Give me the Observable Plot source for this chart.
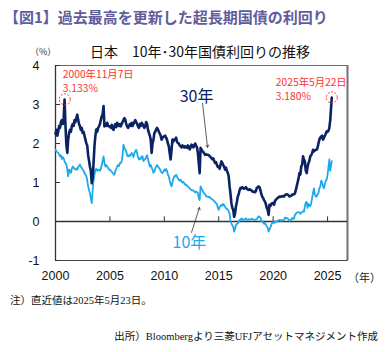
<!DOCTYPE html>
<html>
<head>
<meta charset="utf-8">
<script src="https://cdn.jsdelivr.net/npm/d3@7"></script>
<script src="https://cdn.jsdelivr.net/npm/@observablehq/plot@0.6"></script>
<style>
  html, body { margin: 0; padding: 0; background: #fff; }
  #wrap { position: relative; width: 387px; height: 352px; overflow: hidden; font-family: "Noto Sans CJK JP", "Noto Sans", sans-serif; }
  .abs { position: absolute; white-space: pre; line-height: 1; }
  #title { left: 4px; top: 9px; font-size: 15px; font-weight: bold; color: #615d9c; }
  #ctitle { left: 90px; top: 44px; font-size: 14px; color: #111; }
  #unit { left: 30px; top: 47px; font-size: 9px; color: #333; }
  #yearunit { left: 348px; top: 272px; font-size: 11px; color: #222; }
  #note { left: 10px; top: 296px; font-size: 10.5px; color: #111; font-family: "Liberation Serif", "Noto Sans CJK JP", serif; }
  #source { right: 9px; top: 332px; font-size: 10.5px; color: #111; font-family: "Liberation Serif", "Noto Sans CJK JP", serif; }
  #chart { position: absolute; left: 0; top: 0; }
</style>
</head>
<body>
<div id="wrap">
  <div id="chart"></div>
  <div class="abs" id="title">【図1】過去最高を更新した超長期国債の利回り</div>
  <div class="abs" id="ctitle">日本　10年･30年国債利回りの推移</div>
  <div class="abs" id="unit">（%）</div>
  <div class="abs" id="yearunit">（年）</div>
  <div class="abs" id="note">注）直近値は2025年5月23日。</div>
  <div class="abs" id="source">出所）Bloombergより三菱UFJアセットマネジメント作成</div>
</div>
<script>
// ---- data (monthly, Jan 2000 – Apr 2025, then latest day) ----
const firstMonth = "2000-01-01";
const lastDate = "2025-05-22";

const yield30 = [
  // 2000
  2.25, 2.35, 2.2, 2.3, 2.45, 2.4, 2.55, 2.6, 2.5, 2.65, 3.13, 2.45,
  // 2001
  1.95, 1.76, 2.1, 2.27, 2.35, 2.3, 2.44, 2.5, 2.45, 2.6, 2.55, 2.65,
  // 2002
  2.74, 2.6, 2.5, 2.44, 2.35, 2.4, 2.27, 2.3, 2.2, 2.1, 2.0, 1.95,
  // 2003
  1.7, 1.55, 1.41, 1.3, 0.98, 1.1, 1.5, 1.93, 2.2, 2.36, 2.3, 2.4,
  // 2004
  2.44, 2.5, 2.6, 2.7, 2.75, 2.96, 2.44, 2.5, 2.45, 2.53, 2.45, 2.44,
  // 2005
  2.44, 2.4, 2.48, 2.4, 2.35, 2.45, 2.5, 2.42, 2.53, 2.48, 2.45, 2.5,
  // 2006
  2.44, 2.5, 2.55, 2.6, 2.65, 2.61, 2.5, 2.44, 2.4, 2.45, 2.5, 2.45,
  // 2007
  2.53, 2.45, 2.5, 2.55, 2.6, 2.55, 2.5, 2.44, 2.4, 2.5, 2.45, 2.53,
  // 2008
  2.5, 2.44, 2.4, 2.45, 2.55, 2.5, 2.35, 2.27, 2.2, 2.1, 1.76, 2.0,
  // 2009
  2.1, 2.27, 2.3, 2.36, 2.4, 2.36, 2.3, 2.25, 2.2, 2.1, 2.15, 2.18,
  // 2010
  2.18, 2.2, 2.15, 2.1, 2.0, 1.93, 1.75, 1.59, 1.85, 2.1, 2.05, 2.1,
  // 2011
  2.1, 2.15, 2.05, 2.01, 2.0, 1.95, 1.93, 1.9, 1.95, 1.93, 1.9, 1.93,
  // 2012
  1.9, 1.89, 1.95, 1.92, 1.85, 1.9, 1.97, 1.95, 1.9, 1.95, 2.0, 1.95,
  // 2013
  1.9, 1.75, 1.5, 1.24, 1.89, 1.85, 1.8, 1.78, 1.75, 1.71, 1.72, 1.71,
  // 2014
  1.71, 1.7, 1.68, 1.65, 1.63, 1.6, 1.62, 1.55, 1.5, 1.52, 1.45, 1.4,
  // 2015
  1.41, 1.35, 1.45, 1.54, 1.5, 1.45, 1.4, 1.33, 1.38, 1.3, 1.25, 1.16,
  // 2016
  0.9, 0.7, 0.47, 0.35, 0.3, 0.12, 0.2, 0.39, 0.5, 0.64, 0.7, 0.8,
  // 2017
  0.86, 0.85, 0.88, 0.86, 0.84, 0.86, 0.88, 0.84, 0.82, 0.81, 0.83, 0.81,
  // 2018
  0.8, 0.77, 0.76, 0.77, 0.75, 0.78, 0.86, 0.88, 0.9, 0.88, 0.8, 0.7,
  // 2019
  0.64, 0.6, 0.55, 0.51, 0.45, 0.35, 0.3, 0.17, 0.43, 0.4, 0.45, 0.47,
  // 2020
  0.47, 0.43, 0.52, 0.56, 0.58, 0.6, 0.62, 0.64, 0.63, 0.64, 0.65, 0.64,
  // 2021
  0.64, 0.68, 0.69, 0.7, 0.69, 0.67, 0.64, 0.65, 0.66, 0.69, 0.69, 0.7,
  // 2022
  0.72, 0.81, 0.9, 1.0, 1.1, 1.24, 1.2, 1.41, 1.45, 1.67, 1.6, 1.54,
  // 2023
  1.3, 1.24, 1.4, 1.5, 1.55, 1.67, 1.7, 1.75, 1.84, 1.8, 1.82, 1.84,
  // 2024
  1.84, 1.9, 2.0, 2.1, 2.15, 2.18, 2.2, 2.1, 2.15, 2.2, 2.25, 2.31,
  // 2025 (Jan–Apr)
  2.3, 2.33, 2.4, 2.6
];
const yield10 = [
  // 2000
  1.84, 1.8, 1.78, 1.76, 1.72, 1.67, 1.7, 1.6, 1.65, 1.62, 1.54, 1.5,
  // 2001
  1.45, 1.33, 1.16, 1.33, 1.3, 1.25, 1.35, 1.41, 1.38, 1.35, 1.33, 1.36,
  // 2002
  1.33, 1.4, 1.42, 1.46, 1.4, 1.38, 1.33, 1.3, 1.25, 1.2, 1.16, 1.05,
  // 2003
  0.9, 0.8, 0.73, 0.6, 0.47, 0.8, 1.07, 1.2, 1.33, 1.35, 1.3, 1.33,
  // 2004
  1.33, 1.3, 1.35, 1.45, 1.55, 1.67, 1.5, 1.41, 1.45, 1.4, 1.38, 1.33,
  // 2005
  1.33, 1.3, 1.28, 1.24, 1.22, 1.2, 1.3, 1.35, 1.41, 1.45, 1.42, 1.5,
  // 2006
  1.5, 1.55, 1.7, 1.97, 1.9, 1.84, 1.8, 1.7, 1.67, 1.7, 1.68, 1.72,
  // 2007
  1.76, 1.7, 1.65, 1.75, 1.8, 1.84, 1.75, 1.65, 1.59, 1.62, 1.6, 1.67,
  // 2008
  1.67, 1.55, 1.59, 1.6, 1.65, 1.7, 1.6, 1.5, 1.41, 1.45, 1.38, 1.33,
  // 2009
  1.25, 1.28, 1.35, 1.41, 1.45, 1.41, 1.38, 1.35, 1.3, 1.25, 1.24, 1.28,
  // 2010
  1.33, 1.3, 1.35, 1.3, 1.2, 1.16, 1.05, 0.95, 0.9, 1.0, 1.1, 1.16,
  // 2011
  1.16, 1.2, 1.15, 1.1, 1.07, 1.05, 1.07, 1.03, 1.0, 1.02, 0.98, 0.94,
  // 2012
  0.95, 0.92, 0.9, 0.88, 0.85, 0.82, 0.81, 0.8, 0.79, 0.77, 0.75, 0.77,
  // 2013
  0.75, 0.73, 0.6, 0.55, 0.9, 0.85, 0.8, 0.75, 0.72, 0.7, 0.65, 0.64,
  // 2014
  0.64, 0.62, 0.63, 0.6, 0.58, 0.56, 0.55, 0.52, 0.5, 0.47, 0.45, 0.35,
  // 2015
  0.3, 0.38, 0.4, 0.43, 0.4, 0.45, 0.42, 0.38, 0.34, 0.32, 0.3, 0.26,
  // 2016
  0.2, 0.0, -0.05, -0.1, -0.13, -0.26, -0.2, -0.09, -0.06, -0.05, 0.0, 0.04,
  // 2017
  0.04, 0.08, 0.07, 0.02, 0.05, 0.06, 0.08, 0.05, 0.04, 0.06, 0.05, 0.05,
  // 2018
  0.06, 0.07, 0.05, 0.04, 0.05, 0.04, 0.06, 0.1, 0.13, 0.12, 0.1, 0.02,
  // 2019
  0.0, -0.03, -0.06, -0.04, -0.08, -0.13, -0.15, -0.26, -0.2, -0.15, -0.08, -0.04,
  // 2020
  -0.02, -0.04, 0.0, -0.02, 0.0, 0.02, 0.03, 0.04, 0.02, 0.04, 0.02, 0.03,
  // 2021
  0.04, 0.1, 0.09, 0.09, 0.08, 0.05, 0.02, 0.03, 0.05, 0.09, 0.07, 0.07,
  // 2022
  0.17, 0.2, 0.22, 0.24, 0.24, 0.23, 0.2, 0.22, 0.25, 0.26, 0.25, 0.39,
  // 2023
  0.49, 0.5, 0.35, 0.45, 0.42, 0.39, 0.47, 0.6, 0.73, 0.85, 0.7, 0.64,
  // 2024
  0.64, 0.7, 0.73, 0.85, 0.9, 1.05, 1.0, 0.9, 0.85, 0.95, 1.05, 1.07,
  // 2025 (Jan–Apr)
  1.2, 1.4, 1.59, 1.3
];
const last30 = 3.18;
const last10 = 1.55;

const xTickYears = [2000, 2005, 2010, 2015, 2020, 2025];
const yTicks = [-1, 0, 1, 2, 3, 4];

const peaks = [
  { date: "2000-11-07", value: 3.133, line1: "2000年11月7日", line2: "3.133%", dx: -2, dy: -7 },
  { date: "2025-05-22", value: 3.180, line1: "2025年5月22日", line2: "3.180%", dx: -56, dy: 3 }
];
const seriesLabels = [
  { text: "30年", year: 2012.96, value: 3.2, color: "#0b2263" },
  { text: "10年", year: 2012.31, value: -0.56, color: "#1eaaea" }
];
const arrows = [
  { y1: 2013.51, v1: 3.03, y2: 2013.97, v2: 1.9 },
  { y1: 2012.5, v1: -0.28, y2: 2013.23, v2: 0.36 }
];

// ---- build tables ----
const start = new Date(firstMonth);
const toRows = (vals, lastVal) => {
  const rows = vals.map((v, i) => ({ date: d3.utcMonth.offset(start, i), value: v }));
  rows.push({ date: new Date(lastDate), value: lastVal });
  return rows;
};
const rows30 = toRows(yield30, last30);
const rows10 = toRows(yield10, last10);
const yearToDate = (y) => {
  const yr = Math.floor(y);
  const a = Date.UTC(yr, 0, 1), b = Date.UTC(yr + 1, 0, 1);
  return new Date(a + (y - yr) * (b - a));
};
const xMin = new Date(Date.UTC(2000, 0, 1));
const xMax = new Date(Date.UTC(2026, 10, 1));
const xTicks = xTickYears.map(y => new Date(Date.UTC(y, 0, 1)));
const yTickEnd = d3.utcDay.offset(xMin, 168);

const peakTextStyle = { textAnchor: "start", lineAnchor: "bottom", fill: "#ff3030", fontSize: 10.3, fontFamily: "'Noto Sans CJK JP', sans-serif" };
const peakTexts = peaks.flatMap(p => [
  Plot.text([p], { x: d => new Date(d.date), y: "value", text: "line1", dx: p.dx, dy: p.dy - 14, ...peakTextStyle }),
  Plot.text([p], { x: d => new Date(d.date), y: "value", text: "line2", dx: p.dx, dy: p.dy, ...peakTextStyle })
]);

const chart = Plot.plot({
  width: 387,
  height: 290,
  marginLeft: 55,
  marginRight: 40,
  marginTop: 65,
  marginBottom: 30,
  x: { type: "utc", domain: [xMin, xMax] },
  y: { domain: [-1, 4] },
  style: {
    fontFamily: "'Liberation Sans', 'Noto Sans CJK JP', sans-serif",
    fontSize: "12.5px",
    color: "#111",
    background: "transparent",
    overflow: "visible"
  },
  marks: [
    Plot.frame({ stroke: "#6a6a6a", strokeWidth: 1 }),
    Plot.ruleX([xMax], { stroke: "#707070", strokeWidth: 2 }),
    Plot.ruleX([xMin], { stroke: "#333", strokeWidth: 1.3 }),
    Plot.ruleY([-1], { stroke: "#444", strokeWidth: 1.2 }),
    Plot.ruleY([0], { stroke: "#333", strokeWidth: 1.3 }),
    Plot.ruleY(yTicks, { x1: xMin, x2: yTickEnd, stroke: "#333", strokeWidth: 1 }),
    Plot.ruleX(xTicks.slice(1), { y1: 0, y2: 0.12, stroke: "#333", strokeWidth: 1 }),
    Plot.axisX(xTicks, { tickSize: 0, tickPadding: 11, tickFormat: d => String(d.getUTCFullYear()), fontSize: 12.5, fill: "#111" }),
    Plot.axisY(yTicks, { tickSize: 0, tickPadding: 16, tickFormat: d => String(d), fontSize: 12.5, fill: "#111" }),
    Plot.lineY(rows10, { x: "date", y: "value", stroke: "#1eaaea", strokeWidth: 1.8, strokeLinejoin: "round" }),
    Plot.lineY(rows30, { x: "date", y: "value", stroke: "#0b2263", strokeWidth: 2.6, strokeLinejoin: "round" }),
    Plot.dot(peaks, { x: d => new Date(d.date), y: "value", r: 5.5, stroke: "#ff3030", strokeWidth: 1, strokeDasharray: "2,1.5", fill: "none" }),
    ...peakTexts,
    Plot.arrow(arrows, { x1: d => yearToDate(d.y1), y1: "v1", x2: d => yearToDate(d.y2), y2: "v2", stroke: "#333", strokeWidth: 0.8, headLength: 5, bend: 0 }),
    Plot.text(seriesLabels, { x: d => yearToDate(d.year), y: "value", text: "text", fill: "color", fontSize: 16, fontFamily: "'Noto Sans CJK JP', sans-serif" })
  ]
});
document.getElementById("chart").appendChild(chart);
</script>
</body>
</html>
